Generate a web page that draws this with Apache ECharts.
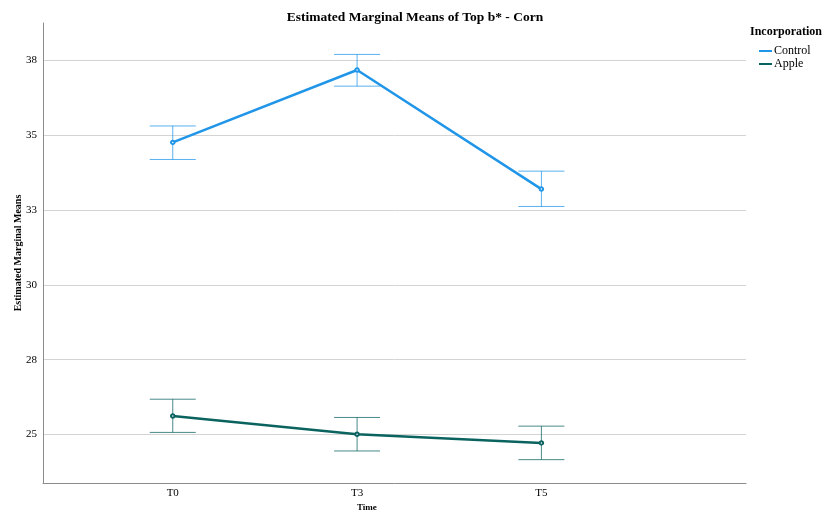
<!DOCTYPE html>
<html>
<head>
<meta charset="utf-8">
<script src="https://cdn.jsdelivr.net/npm/echarts@6/dist/echarts.min.js"></script>
<style>
  html, body { margin: 0; padding: 0; background: #fff; }
  #chart { width: 823px; height: 517px; }
</style>
</head>
<body>
<div id="chart"></div>
<script>
const times = ['T0', 'T3', 'T5'];
const yTicks = [25, 27.5, 30, 32.5, 35, 37.5];

const controlMean = [34.76, 37.18, 33.20];
const controlLow = [34.19, 36.64, 32.62];
const controlHigh = [35.31, 37.70, 33.80];

const appleMean = [25.62, 25.01, 24.72];
const appleLow = [25.07, 24.45, 24.16];
const appleHigh = [26.18, 25.57, 25.28];

const blue = '#2196e8';
const teal = '#0b6360';
const serif = '"Liberation Serif", "DejaVu Serif", serif';

const chart = echarts.init(document.getElementById('chart'));

// error bar drawn from [x, low, high] via the axes
function errorBar(color) {
  return function (params, api) {
    const x = api.value(0);
    const lo = api.coord([x, api.value(1)]);
    const hi = api.coord([x, api.value(2)]);
    const half = 23;
    const style = { stroke: color, lineWidth: 1, opacity: 0.75 };
    return {
      type: 'group',
      children: [
        { type: 'line', shape: { x1: hi[0], y1: hi[1], x2: lo[0], y2: lo[1] }, style: style },
        { type: 'line', shape: { x1: hi[0] - half, y1: hi[1], x2: hi[0] + half, y2: hi[1] }, style: style },
        { type: 'line', shape: { x1: lo[0] - half, y1: lo[1], x2: lo[0] + half, y2: lo[1] }, style: style }
      ]
    };
  };
}

const option = {
  animation: false,
  title: {
    text: 'Estimated Marginal Means of Top b* - Corn',
    left: 410, top: 6, textAlign: 'center',
    textStyle: { fontFamily: serif, fontSize: 13.5, fontWeight: 'bold', color: '#000' }
  },
  legend: {
    orient: 'vertical',
    left: 754, top: 40,
    itemWidth: 13, itemHeight: 2, itemGap: 1,
    icon: 'rect',
    data: ['Control', 'Apple'],
    textStyle: { fontFamily: serif, fontSize: 12, color: '#000', padding: [0, 0, 0, -3] }
  },
  graphic: [
    { type: 'text', left: 750, top: 26,
      style: { text: 'Incorporation', font: 'bold 12px ' + serif, fill: '#000' } },
    { type: 'text', left: 357, top: 503,
      style: { text: 'Time', font: 'bold 9px ' + serif, fill: '#000', textAlign: 'center' } },
    { type: 'text', x: 18, y: 253, rotation: Math.PI / 2,
      style: { text: 'Estimated Marginal Means', font: 'bold 10px ' + serif, fill: '#000',
               textAlign: 'center', textVerticalAlign: 'middle' } }
  ],
  grid: { left: 43, right: 77, top: 23, bottom: 34 },
  xAxis: {
    type: 'value',
    min: -0.704, max: 3.11,
    axisLine: { show: true, onZero: false, lineStyle: { color: '#8c8c8c' } },
    axisTick: { show: false, customValues: [0, 1, 2] },
    splitLine: { show: false },
    axisLabel: {
      customValues: [0, 1, 2],
      formatter: v => times[Math.round(v)],
      fontFamily: serif, fontSize: 11, color: '#000', margin: 5
    }
  },
  yAxis: {
    type: 'value',
    min: 23.38, max: 38.75,
    axisLine: { show: true, onZero: false, lineStyle: { color: '#8c8c8c' } },
    axisTick: { show: false, customValues: yTicks },
    splitLine: { show: true, lineStyle: { color: '#d4d4d4', width: 1 } },
    axisLabel: {
      customValues: yTicks,
      formatter: v => String(Math.round(v)),
      fontFamily: serif, fontSize: 11, color: '#000', margin: 6
    }
  },
  series: [
    {
      name: 'Control', type: 'line',
      data: controlMean.map((v, i) => [i, v]),
      color: blue,
      lineStyle: { width: 2.5, color: blue },
      symbol: 'emptyCircle', symbolSize: 3.5,
      itemStyle: { color: blue, borderWidth: 1 }
    },
    {
      name: 'Apple', type: 'line',
      data: appleMean.map((v, i) => [i, v]),
      color: teal,
      lineStyle: { width: 2.5, color: teal },
      symbol: 'emptyCircle', symbolSize: 3.5,
      itemStyle: { color: teal, borderWidth: 1 }
    },
    {
      type: 'custom', name: 'Control err',
      renderItem: errorBar(blue),
      data: controlLow.map((v, i) => [i, v, controlHigh[i]]),
      z: 1
    },
    {
      type: 'custom', name: 'Apple err',
      renderItem: errorBar(teal),
      data: appleLow.map((v, i) => [i, v, appleHigh[i]]),
      z: 1
    }
  ]
};

chart.setOption(option);
</script>
</body>
</html>
